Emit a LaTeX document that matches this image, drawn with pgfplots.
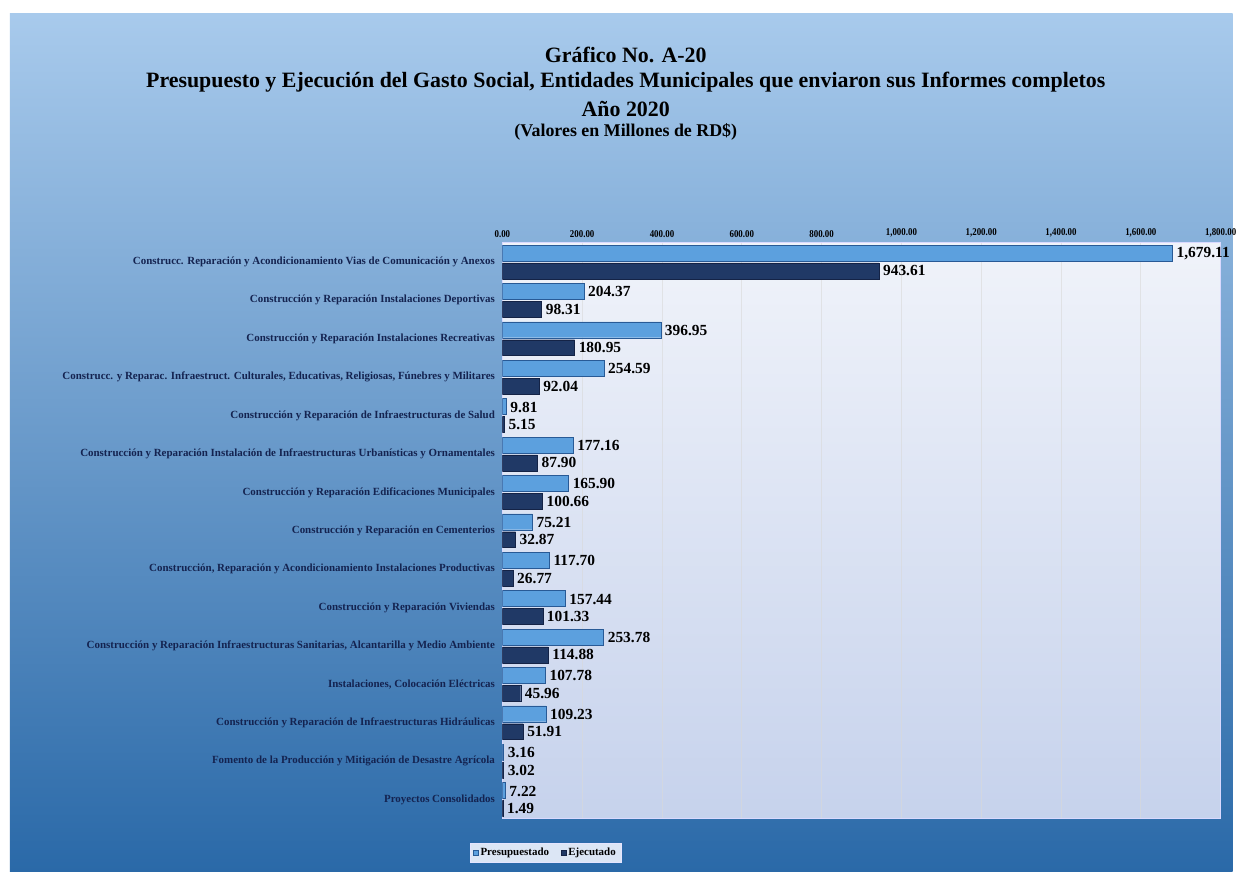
\documentclass[border=0pt]{standalone}
\usepackage{pgfplots}
\pgfplotsset{compat=1.18}
\usepackage{fontspec}
\setmainfont{Liberation Serif}
\definecolor{presu}{RGB}{92,160,222}
\definecolor{presuD}{RGB}{40,90,150}
\definecolor{ejec}{RGB}{32,57,102}
\definecolor{ejecD}{RGB}{20,35,70}
\definecolor{labnavy}{RGB}{20,35,80}
\begin{document}
\begin{tikzpicture}[x=1pt,y=1pt]
\fill[white] (0,0) rectangle (1239,876);
\shade[top color={rgb,255:red,168;green,202;blue,236}, bottom color={rgb,255:red,42;green,105;blue,168}] (10,0) rectangle (1239,862);
\node[font=\bfseries\fontsize{22}{24}\selectfont] at (629,821) {Gráfico No. A-20};
\node[font=\bfseries\fontsize{22}{24}\selectfont] at (629,793) {Presupuesto y Ejecución del Gasto Social, Entidades Municipales que enviaron sus Informes completos};
\node[font=\bfseries\fontsize{22}{24}\selectfont] at (629,766) {Año 2020};
\node[font=\bfseries\fontsize{18}{20}\selectfont] at (629,743) {(Valores en Millones de RD\$)};
\begin{axis}[
  at={(505pt,53pt)}, anchor=south west,
  scale only axis, width=722pt, height=579pt,
  xmin=0, xmax=1800, ymin=-0.5, ymax=14.5,
  xtick={0,200,...,1800},
  xticklabel pos=upper,
  ytick={0,...,14},
  yticklabels={Proyectos Consolidados,
    Fomento de la Producción y Mitigación de Desastre Agrícola,
    Construcción y Reparación de Infraestructuras Hidráulicas,
    {Instalaciones, Colocación Eléctricas},
    {Construcción y Reparación Infraestructuras Sanitarias, Alcantarilla y Medio Ambiente},
    Construcción y Reparación Viviendas,
    {Construcción, Reparación y Acondicionamiento Instalaciones Productivas},
    Construcción y Reparación en Cementerios,
    Construcción y Reparación Edificaciones Municipales,
    Construcción y Reparación Instalación de Infraestructuras Urbanísticas y Ornamentales,
    Construcción y Reparación de Infraestructuras de Salud,
    {Construcc. y Reparac. Infraestruct. Culturales, Educativas, Religiosas, Fúnebres y Militares},
    Construcción y Reparación Instalaciones Recreativas,
    Construcción y Reparación Instalaciones Deportivas,
    Construcc. Reparación y Acondicionamiento Vias de Comunicación y Anexos},
  major tick length=0pt,
  xmajorgrids, major grid style={white!70!gray, line width=0.8pt, opacity=0.6},
  axis line style={draw=white!85!blue, line width=0.8pt},
  axis background/.style={shade, top color={rgb,255:red,240;green,243;blue,250}, bottom color={rgb,255:red,198;green,210;blue,236}},
  /pgf/number format/.cd, fixed, fixed zerofill, precision=2, 1000 sep={,}, assume math mode=true,
  /pgfplots/.cd,
  xticklabel style={font=\bfseries\fontsize{10.5}{11}\selectfont, black, xscale=0.85},
  xticklabel shift=2pt,
  yticklabel style={font=\bfseries\fontsize{11}{12}\selectfont, labnavy, xshift=-4pt},
  bar width=16pt,
  nodes near coords,
  point meta=x,
  every node near coord/.append style={font=\bfseries\fontsize{15.5}{16}\selectfont, black, anchor=west, inner sep=2pt, xshift=2pt},
  legend style={at={(0.06,-0.0587)}, anchor=center, legend columns=2, draw=white!90!blue, fill={rgb,255:red,220;green,230;blue,245},
    font=\bfseries\fontsize{11}{12}\selectfont, inner sep=3pt,
    /tikz/every even column/.append style={column sep=10pt}},
  legend image code/.code={\fill[#1] (1pt,-2.5pt) rectangle (6pt,2.5pt);},
]
\addplot[xbar, bar shift=9pt, fill=presu, draw=presuD, every node near coord/.append style={yshift=8.5pt}] coordinates {
(1679.11,14) (204.37,13) (396.95,12) (254.59,11) (9.81,10) (177.16,9) (165.90,8) (75.21,7) (117.70,6) (157.44,5) (253.78,4) (107.78,3) (109.23,2) (3.16,1) (7.22,0)};
\addplot[xbar, bar shift=-9pt, fill=ejec, draw=ejecD, every node near coord/.append style={yshift=-9pt}] coordinates {
(943.61,14) (98.31,13) (180.95,12) (92.04,11) (5.15,10) (87.90,9) (100.66,8) (32.87,7) (26.77,6) (101.33,5) (114.88,4) (45.96,3) (51.91,2) (3.02,1) (1.49,0)};
\legend{Presupuestado, Ejecutado}
\end{axis}
\end{tikzpicture}
\end{document}
